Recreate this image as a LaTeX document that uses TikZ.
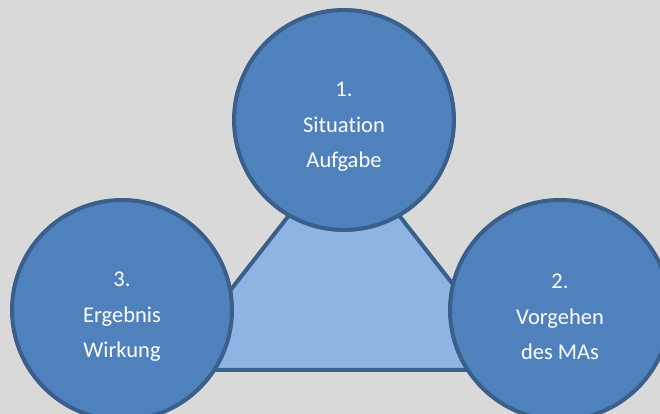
\documentclass[tikz,border=0pt]{standalone}
\usepackage{fontspec}
\setmainfont{Carlito}[Ligatures=NoCommon]
\definecolor{bggray}{HTML}{D9D9D9}
\definecolor{ringblue}{HTML}{4F81BD}
\definecolor{edgeblue}{HTML}{3A5F8B}
\definecolor{coreblue}{HTML}{8EB4E3}
\tikzset{
  ring/.style={circle, draw=edgeblue, line width=4pt, fill=ringblue, minimum size=220pt, inner sep=0pt},
  ringtext/.style={text=white, align=center, yshift=-7pt, font=\fontsize{22.5}{35.5}\selectfont},
}
\begin{document}
\begin{tikzpicture}[x=1pt,y=1pt]
    \useasboundingbox[fill=bggray] (0,0) rectangle (660,414);
    \clip (0,0) rectangle (660,414);
    \coordinate (apex) at (344,269);
    \coordinate (baseL) at (168,44);
    \coordinate (baseR) at (520,44);
    \draw[edgeblue, line width=4pt, fill=coreblue, line join=miter] (apex)--(baseR)--(baseL)--cycle;
    \node[ring, label={[ringtext]center:1.\\Situation\\Aufgabe}] (situation) at (344,294) {};
    \node[ring, label={[ringtext]center:2.\\Vorgehen\\des MAs}] (vorgehen) at (560,104) {};
    \node[ring, label={[ringtext]center:3.\\Ergebnis\\Wirkung}] (ergebnis) at (122,104) {};
\end{tikzpicture}
\end{document}
